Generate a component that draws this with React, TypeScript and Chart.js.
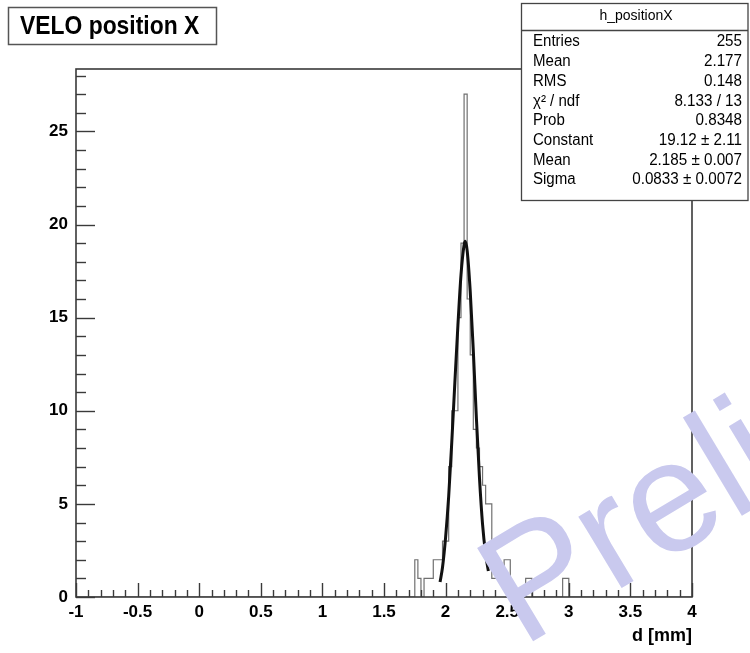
import React, { useEffect, useRef } from 'react';
import { Chart, registerables } from 'chart.js';

Chart.register(...registerables);

// ---- data ----
const binWidth = 0.025;
const binLow = [
  1.75, 1.775, 1.8, 1.825, 1.85, 1.875, 1.9, 1.925, 1.95, 1.975, 2.0, 2.025, 2.05, 2.075,
  2.1, 2.125, 2.15, 2.175, 2.2, 2.225, 2.25, 2.275, 2.3, 2.325, 2.35, 2.375, 2.4, 2.425,
  2.45, 2.475, 2.5, 2.525, 2.55, 2.575, 2.6, 2.625, 2.65, 2.675, 2.7, 2.725, 2.75, 2.775,
  2.8, 2.825, 2.85, 2.875, 2.9, 2.925, 2.95, 2.975,
];
const binCounts = [
  2, 1, 0, 1, 1, 1, 2, 2, 2, 3, 3, 7, 10, 10,
  15, 19, 27, 16, 13, 9, 8, 7, 6, 5, 5, 1, 1, 1,
  1, 2, 2, 0, 0, 0, 0, 0, 1, 1, 0, 0, 0, 0,
  0, 0, 0, 0, 0, 0, 1, 1,
];

const fitX = [1.955, 1.975, 2.0, 2.025, 2.05, 2.075, 2.1, 2.125, 2.15, 2.16, 2.175, 2.2, 2.225, 2.25, 2.275, 2.3, 2.325, 2.347];
const fitY = [0.8, 1.6, 3.2, 5.4, 8.3, 11.5, 14.6, 17.3, 18.9, 19.1, 18.6, 16.4, 13.2, 9.6, 6.4, 3.9, 2.3, 1.4];

const xTickValues = [-1, -0.5, 0, 0.5, 1, 1.5, 2, 2.5, 3, 3.5, 4];
const xTickLabels = ['-1', '-0.5', '0', '0.5', '1', '1.5', '2', '2.5', '3', '3.5', '4'];
const yTickValues = [0, 5, 10, 15, 20, 25];
const yTickLabels = ['0', '5', '10', '15', '20', '25'];
const xMin = -1;
const xMax = 4;
const yMax = 28.35;
const xMinorStep = 0.1;
const yMinorStep = 1;

const titleText = 'VELO position X';
const xAxisTitle = 'd [mm]';
const statsTitle = 'h_positionX';
const statsLabels = ['Entries', 'Mean', 'RMS', 'χ² / ndf', 'Prob', 'Constant', 'Mean', 'Sigma'];
const statsValues = ['255', '2.177', '0.148', '8.133 / 13', '0.8348', '19.12 ± 2.11', '2.185 ± 0.007', '0.0833 ± 0.0072'];
const watermarkText = 'Preliminary';

const FONT = "'Liberation Sans', Arial, Helvetica, sans-serif";

function histPoints() {
  const pts: { x: number; y: number }[] = [{ x: xMin, y: 0 }];
  let prevEnd = xMin;
  binLow.forEach((lo, i) => {
    if (lo > prevEnd + 1e-9) {
      pts.push({ x: lo, y: 0 });
    } else {
      pts.push({ x: lo, y: pts[pts.length - 1].y });
    }
    pts.push({ x: lo, y: binCounts[i] });
    pts.push({ x: lo + binWidth, y: binCounts[i] });
    prevEnd = lo + binWidth;
  });
  pts.push({ x: prevEnd, y: 0 });
  pts.push({ x: xMax, y: 0 });
  return pts;
}

const decorPlugin = {
  id: 'rootDecor',
  afterDatasetsDraw(chart: any) {
    const { ctx, chartArea: a, scales } = chart;
    const xs = scales.x;
    const ys = scales.y;
    ctx.save();
    ctx.strokeStyle = '#3a3a3a';
    ctx.lineWidth = 1.4;
    const nx = Math.round((xMax - xMin) / xMinorStep);
    for (let i = 0; i <= nx; i++) {
      const v = xMin + i * xMinorStep;
      const major = Math.abs(v * 2 - Math.round(v * 2)) < 1e-6;
      const px = Math.round(xs.getPixelForValue(v)) + 0.5;
      ctx.beginPath();
      ctx.moveTo(px, a.bottom);
      ctx.lineTo(px, a.bottom - (major ? 14 : 7));
      ctx.stroke();
    }
    for (let v = 0; v <= yMax; v += yMinorStep) {
      const major = v % 5 === 0;
      const py = Math.round(ys.getPixelForValue(v)) + 0.5;
      ctx.beginPath();
      ctx.moveTo(a.left, py);
      ctx.lineTo(a.left + (major ? 19 : 10), py);
      ctx.stroke();
    }
    ctx.lineWidth = 1.6;
    ctx.strokeRect(a.left, a.top, a.right - a.left, a.bottom - a.top);
    ctx.restore();
  },
  afterDraw(chart: any) {
    const { ctx, chartArea: a } = chart;
    ctx.save();
    ctx.fillStyle = '#000';
    ctx.font = `bold 18px ${FONT}`;
    ctx.textAlign = 'right';
    ctx.textBaseline = 'middle';
    ctx.fillText(xAxisTitle, a.right, 636);

    // title box
    ctx.fillStyle = '#fff';
    ctx.fillRect(8.5, 7.5, 208, 37);
    ctx.strokeStyle = '#555';
    ctx.lineWidth = 1.5;
    ctx.strokeRect(8.5, 7.5, 208, 37);
    ctx.fillStyle = '#000';
    ctx.save();
    ctx.translate(20, 27);
    ctx.scale(0.88, 1);
    ctx.font = `bold 26px ${FONT}`;
    ctx.textAlign = 'left';
    ctx.textBaseline = 'middle';
    ctx.fillText(titleText, 0, 0);
    ctx.restore();

    // stats box
    const bx = 521.5, by = 3.5, bw = 226.5, bh = 197;
    ctx.fillStyle = '#fff';
    ctx.fillRect(bx, by, bw, bh);
    ctx.strokeStyle = '#444';
    ctx.lineWidth = 1.3;
    ctx.strokeRect(bx, by, bw, bh);
    ctx.beginPath();
    ctx.moveTo(bx, 30.5);
    ctx.lineTo(bx + bw, 30.5);
    ctx.stroke();
    ctx.fillStyle = '#000';
    ctx.textBaseline = 'middle';
    ctx.save();
    ctx.translate(636, 16);
    ctx.font = `14px ${FONT}`;
    ctx.textAlign = 'center';
    ctx.fillText(statsTitle, 0, 0);
    ctx.restore();
    statsLabels.forEach((lab, i) => {
      const yy = 42 + i * 19.7;
      ctx.save();
      ctx.translate(533, yy);
      ctx.scale(0.94, 1);
      ctx.font = `16px ${FONT}`;
      ctx.textAlign = 'left';
      ctx.fillText(lab, 0, 0);
      ctx.restore();
      ctx.save();
      ctx.translate(742, yy);
      ctx.scale(0.95, 1);
      ctx.font = `16px ${FONT}`;
      ctx.textAlign = 'right';
      ctx.fillText(statsValues[i], 0, 0);
      ctx.restore();
    });

    // watermark
    ctx.save();
    ctx.translate(522, 648);
    ctx.rotate((-31 * Math.PI) / 180);
    ctx.fillStyle = '#c9c9ee';
    ctx.font = `158px ${FONT}`;
    ctx.textAlign = 'left';
    ctx.textBaseline = 'alphabetic';
    ctx.fillText(watermarkText, 0, 0);
    ctx.restore();
    ctx.restore();
  },
};

export default function App() {
  const ref = useRef<HTMLCanvasElement | null>(null);
  useEffect(() => {
    if (!ref.current) return;
    const chart = new Chart(ref.current, {
      type: 'line',
      data: {
        datasets: [
          {
            label: 'fit',
            data: fitX.map((x, i) => ({ x, y: fitY[i] })),
            borderColor: '#111',
            borderWidth: 3,
            pointRadius: 0,
            fill: false,
            cubicInterpolationMode: 'monotone',
          },
          {
            label: 'h_positionX',
            data: histPoints(),
            borderColor: '#707070',
            borderWidth: 1.2,
            pointRadius: 0,
            fill: false,
            tension: 0,
          },
        ],
      },
      options: {
        responsive: false,
        animation: false,
        devicePixelRatio: 1,
        layout: { padding: { top: 69, right: 58, left: 0, bottom: 0 } },
        plugins: { legend: { display: false }, tooltip: { enabled: false }, title: { display: false } },
        scales: {
          x: {
            type: 'linear',
            min: xMin,
            max: xMax,
            afterBuildTicks: (s: any) => {
              s.ticks = xTickValues.map((v) => ({ value: v }));
            },
            afterFit: (s: any) => {
              s.height = 56;
            },
            grid: { display: false, drawTicks: false },
            border: { display: false },
            ticks: {
              autoSkip: false,
              maxRotation: 0,
              padding: 5,
              color: '#000',
              font: { family: FONT, size: 17, weight: 'bold' },
              callback: (v: any) => {
                const i = xTickValues.findIndex((t) => Math.abs(t - Number(v)) < 1e-9);
                return i >= 0 ? xTickLabels[i] : '';
              },
            },
          },
          y: {
            type: 'linear',
            min: 0,
            max: yMax,
            afterBuildTicks: (s: any) => {
              s.ticks = yTickValues.map((v) => ({ value: v }));
            },
            afterFit: (s: any) => {
              s.width = 76;
            },
            grid: { display: false, drawTicks: false },
            border: { display: false },
            ticks: {
              autoSkip: false,
              padding: 8,
              color: '#000',
              font: { family: FONT, size: 17, weight: 'bold' },
              callback: (v: any) => {
                const i = yTickValues.findIndex((t) => Math.abs(t - Number(v)) < 1e-9);
                return i >= 0 ? yTickLabels[i] : '';
              },
            },
          },
        },
      },
      plugins: [decorPlugin],
    } as any);
    return () => chart.destroy();
  }, []);
  return (
    <div style={{ position: 'absolute', left: 0, top: 0, width: 750, height: 653, background: '#fff' }}>
      <canvas ref={ref} width={750} height={653} style={{ display: 'block' }} />
    </div>
  );
}
